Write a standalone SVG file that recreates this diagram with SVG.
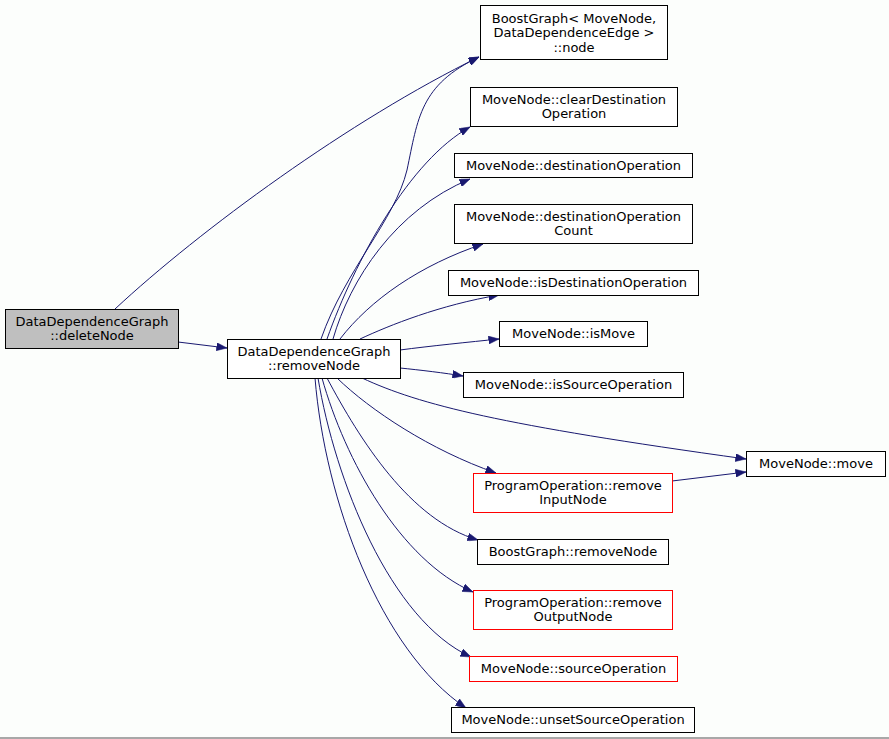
<svg xmlns="http://www.w3.org/2000/svg" width="889" height="739" viewBox="0 0 889 739">
<style>
.n rect{fill:#ffffff;stroke:#000000;stroke-width:1}
.n.red rect{stroke:#ff0000}
.n.root rect{fill:#bfbfbf;stroke:#000000}
.n text{font-family:"DejaVu Sans",sans-serif;font-size:13px;fill:#000000;text-anchor:middle}
#edges path{fill:none;stroke:#191970;stroke-width:1}
</style>
<defs>
<marker id="ah" markerUnits="userSpaceOnUse" markerWidth="11" markerHeight="8" refX="10.5" refY="4" orient="auto">
<path d="M0,0 L10.5,4 L0,8 z" fill="#191970" stroke="#191970" stroke-width="0.5"/>
</marker>
</defs>
<rect x="0" y="0" width="889" height="739" fill="#fcfefc"/>
<rect x="0" y="737" width="889" height="2" fill="#a8a8a8"/>
<g id="edges">
<path d="M115,309 C200,230 350,120 479,57" marker-end="url(#ah)"/>
<path d="M178,342 L227,348" marker-end="url(#ah)"/>
<path d="M321,339 C345,270 395,220 407,170 C418,118 420,85 479,57" marker-end="url(#ah)"/>
<path d="M327,339 C355,260 410,160 470,127" marker-end="url(#ah)"/>
<path d="M333,339 C350,280 395,210 470,179" marker-end="url(#ah)"/>
<path d="M340,339 C370,300 420,265 483,244" marker-end="url(#ah)"/>
<path d="M360,339 C390,325 440,305 499,295" marker-end="url(#ah)"/>
<path d="M400,350 C430,346 470,342 499,339" marker-end="url(#ah)"/>
<path d="M400,368 C420,370 445,373 463,376" marker-end="url(#ah)"/>
<path d="M362,378 C420,405 500,425 746,459" marker-end="url(#ah)"/>
<path d="M337,378 C370,410 430,450 496,473" marker-end="url(#ah)"/>
<path d="M327,378 C360,440 410,520 478,540" marker-end="url(#ah)"/>
<path d="M322,378 C345,460 400,560 473,592" marker-end="url(#ah)"/>
<path d="M318,378 C335,480 390,620 471,657" marker-end="url(#ah)"/>
<path d="M315,378 C325,500 380,650 466,708" marker-end="url(#ah)"/>
<path d="M672,481 L746,472" marker-end="url(#ah)"/>
</g>
<g id="deleteNode" class="n root"><rect x="5.5" y="309.5" width="173" height="39"/><text x="92" y="325.5">DataDependenceGraph</text><text x="92" y="340">::deleteNode</text></g>
<g id="removeNode" class="n"><rect x="227.5" y="339.5" width="173" height="39"/><text x="314" y="355.5">DataDependenceGraph</text><text x="314" y="370">::removeNode</text></g>
<g id="bgNode" class="n"><rect x="480.5" y="5.5" width="187" height="54"/><text x="574" y="22.5">BoostGraph&lt; MoveNode,</text><text x="574" y="37">DataDependenceEdge &gt;</text><text x="574" y="51.5">::node</text></g>
<g id="clearDest" class="n"><rect x="470.5" y="87.5" width="207" height="39"/><text x="574" y="103.5">MoveNode::clearDestination</text><text x="574" y="118">Operation</text></g>
<g id="destOp" class="n"><rect x="454.5" y="153.5" width="238" height="24"/><text x="573.5" y="170">MoveNode::destinationOperation</text></g>
<g id="destOpCount" class="n"><rect x="454.5" y="204.5" width="238" height="39"/><text x="573.5" y="220.5">MoveNode::destinationOperation</text><text x="573.5" y="235">Count</text></g>
<g id="isDestOp" class="n"><rect x="448.5" y="270.5" width="250" height="25"/><text x="573.5" y="287">MoveNode::isDestinationOperation</text></g>
<g id="isMove" class="n"><rect x="499.5" y="321.5" width="148" height="25"/><text x="573.5" y="338">MoveNode::isMove</text></g>
<g id="isSourceOp" class="n"><rect x="463.5" y="372.5" width="220" height="25"/><text x="573.5" y="389">MoveNode::isSourceOperation</text></g>
<g id="move" class="n"><rect x="746.5" y="451.5" width="139" height="25"/><text x="816" y="468">MoveNode::move</text></g>
<g id="removeInputNode" class="n red"><rect x="473.5" y="473.5" width="199" height="39"/><text x="573" y="489.5">ProgramOperation::remove</text><text x="573" y="504">InputNode</text></g>
<g id="bgRemoveNode" class="n"><rect x="477.5" y="539.5" width="191" height="25"/><text x="573" y="556">BoostGraph::removeNode</text></g>
<g id="removeOutputNode" class="n red"><rect x="473.5" y="590.5" width="199" height="39"/><text x="573" y="606.5">ProgramOperation::remove</text><text x="573" y="621">OutputNode</text></g>
<g id="sourceOp" class="n red"><rect x="469.5" y="656.5" width="208" height="25"/><text x="573.5" y="673">MoveNode::sourceOperation</text></g>
<g id="unsetSourceOp" class="n"><rect x="451.5" y="707.5" width="243" height="25"/><text x="573" y="724">MoveNode::unsetSourceOperation</text></g>
</svg>
